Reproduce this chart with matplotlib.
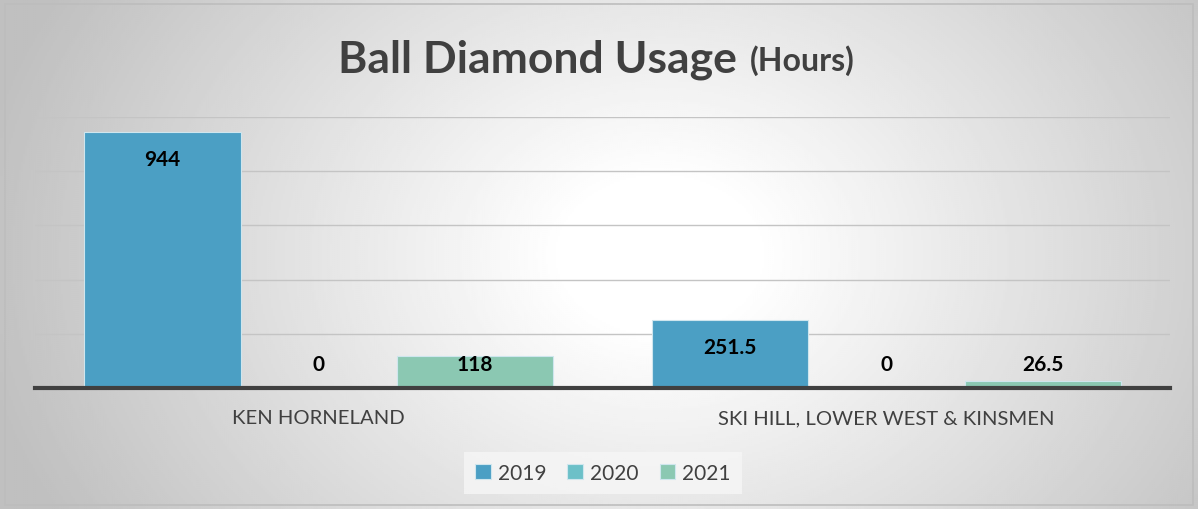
import numpy as np
import matplotlib.pyplot as plt
from matplotlib.patches import Rectangle

# ==========================================
# Data
# ==========================================
categories = ['KEN HORNELAND', 'SKI HILL, LOWER WEST & KINSMEN']
years = ['2019', '2020', '2021']
hours_2019 = [944, 251.5]
hours_2020 = [0, 0]
hours_2021 = [118, 26.5]
label_text = [['944', '251.5'], ['0', '0'], ['118', '26.5']]

colors = ['#4b9fc4', '#6cc0c8', '#8bc8b2']
text_col = '#404040'
font = ['Lato', 'DejaVu Sans']

# ==========================================
# Figure + gradient background
# ==========================================
fig = plt.figure(figsize=(11.98, 5.10), dpi=100)
bg = fig.add_axes([0, 0, 1, 1], zorder=-10)
ny, nx = 255, 600
yy, xx = np.mgrid[0:ny, 0:nx]
r = np.sqrt(((xx / nx - 0.55) * 1.0) ** 2 + ((yy / ny - 0.5) * 0.55) ** 2)
shade = 1.0 - 0.25 * np.clip((r - 0.08) / 0.5, 0, 1)
bg.imshow(shade, cmap='gray', vmin=0, vmax=1, aspect='auto', extent=[0, 1, 0, 1])
bg.add_patch(Rectangle((0.004, 0.008), 0.992, 0.982, fill=False, edgecolor='#bdbdbd',
                       linewidth=1.2, transform=bg.transAxes))
bg.set_xlim(0, 1)
bg.set_ylim(0, 1)
bg.axis('off')

# ==========================================
# Bars
# ==========================================
ax = fig.add_axes([0.029, 0.237, 0.948, 0.532])
ax.patch.set_alpha(0)
x = np.arange(len(categories))
w = 0.275
series = [hours_2019, hours_2020, hours_2021]
for i, (vals, c, yr) in enumerate(zip(series, colors, years)):
    pos = x + (i - 1) * w
    ax.bar(pos, vals, width=w, color=c, edgecolor='#cfe6ee', linewidth=0.8,
           label=yr, zorder=3)
    for p, v, t in zip(pos, vals, label_text[i]):
        ax.text(p, max(v - 100, 88), t, ha='center', va='center', fontsize=15,
                fontweight='bold', color='black', family=font, zorder=5)

ax.set_xlim(-0.5, 1.5)
ax.set_ylim(0, 1000)
ax.set_yticks([200, 400, 600, 800, 1000])
ax.yaxis.grid(True, color='#c4c4c4', linewidth=1.0, zorder=0)
ax.tick_params(axis='y', left=False, labelleft=False)
ax.tick_params(axis='x', length=0, pad=15)
ax.set_xticks(x)
ax.set_xticklabels(categories, fontsize=14.6, color=text_col, family=font)
for s in ['top', 'right', 'left']:
    ax.spines[s].set_visible(False)
ax.spines['bottom'].set_color('#404040')
ax.spines['bottom'].set_linewidth(3)
ax.spines['bottom'].set_zorder(4)

# ==========================================
# Title
# ==========================================
fig.text(737 / 1198, 1 - 73 / 510, 'Ball Diamond Usage', ha='right', va='baseline',
         fontsize=32, fontweight='bold', color=text_col, family=font)
fig.text(750 / 1198, 1 - 71 / 510, '(Hours)', ha='left', va='baseline',
         fontsize=23, fontweight='bold', color=text_col, family=font)

# ==========================================
# Legend
# ==========================================
leg = fig.legend(loc='center', bbox_to_anchor=(603 / 1198, 1 - 474 / 510), ncol=3,
                 frameon=True, fancybox=False, handlelength=0.75,
                 handleheight=0.75, handletextpad=0.35, columnspacing=1.0,
                 borderpad=0.55, prop={'family': font, 'size': 15})
leg.get_frame().set_facecolor('#f6f6f6')
leg.get_frame().set_edgecolor('none')
for t in leg.get_texts():
    t.set_color(text_col)

fig.savefig('out.png', dpi=100)
